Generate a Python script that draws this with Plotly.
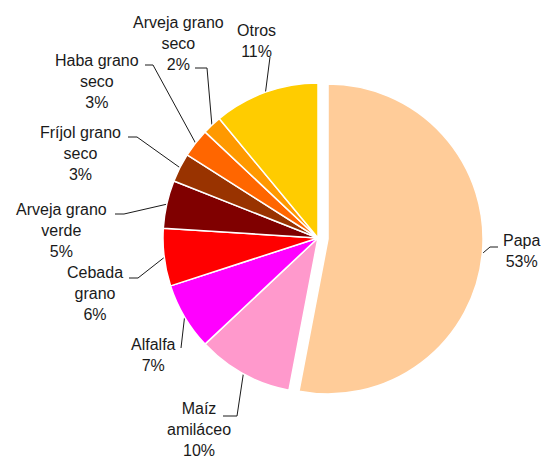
import numpy as np
import plotly.graph_objects as go

# data
labels = ["Papa", "Maíz amiláceo", "Alfalfa", "Cebada grano", "Arveja grano verde",
          "Fríjol grano seco", "Haba grano seco", "Arveja grano seco", "Otros"]
label_text = ["Papa<br>53%", "Maíz<br>amiláceo<br>10%", "Alfalfa<br>7%", "Cebada<br>grano<br>6%",
              "Arveja grano<br>verde<br>5%", "Fríjol grano<br>seco<br>3%", "Haba grano<br>seco<br>3%",
              "Arveja grano<br>seco<br>2%", "Otros<br>11%"]
shares = [53, 10, 7, 6, 5, 3, 3, 2, 11]
colors = ["#FFCC99", "#FF99CC", "#FF00FF", "#FF0000", "#800000",
          "#993300", "#FF6600", "#FF9900", "#FFCC00"]
pulls = [0.065, 0, 0, 0, 0, 0, 0, 0, 0]

W, H = 542, 459
CX, CY, R = 318, 238, 155

# label layout (pixel space): text centre, elbow of leader, end of leader
text_xy = [(521, 251), (199, 429), (153, 355), (95, 293), (61, 230),
           (80, 153), (97, 81), (178, 43), (256, 41)]
elbow_xy = [(490, 247), (237, 416), (181, 348), (138, 278), (124, 214),
            (137, 137), (153, 65), (207, 68), (270, 57)]
end_xy = [(498, 247), (223, 416), (181, 348), (129, 278), (115, 214),
          (128, 137), (145, 65), (195, 68), (270, 57)]

half = R * (1 + max(pulls))

fig = go.Figure()

fig.add_trace(
    go.Pie(
        labels=labels,
        values=shares,
        sort=False,
        direction="clockwise",
        rotation=0,
        pull=pulls,
        marker=dict(colors=colors, line=dict(color="white", width=1.5)),
        textinfo="none",
        hoverinfo="label+percent",
        showlegend=False,
        domain=dict(x=[(CX - half) / W, (CX + half) / W],
                    y=[1 - (CY + half) / H, 1 - (CY - half) / H]),
    )
)

# leader lines start on the slice edge at the middle angle
total = sum(shares)
cum = np.cumsum([0] + shares[:-1]) / total
mid = (cum + np.array(shares) / total / 2) * 2 * np.pi
for i in range(len(labels)):
    rr = R * (1 + pulls[i])
    sx = CX + rr * np.sin(mid[i])
    sy = CY - rr * np.cos(mid[i])
    fig.add_trace(
        go.Scatter(
            x=[sx, elbow_xy[i][0], end_xy[i][0]],
            y=[sy, elbow_xy[i][1], end_xy[i][1]],
            mode="lines",
            line=dict(color="#1a1a1a", width=1),
            hoverinfo="skip",
            showlegend=False,
        )
    )
    fig.add_annotation(
        x=text_xy[i][0], y=text_xy[i][1], xref="x", yref="y",
        text=label_text[i], showarrow=False, align="center",
        font=dict(family="Liberation Sans, Arial, sans-serif", size=16, color="#1a1a1a"),
    )

fig.update_layout(
    width=W,
    height=H,
    margin=dict(l=0, r=0, t=0, b=0),
    paper_bgcolor="white",
    plot_bgcolor="rgba(0,0,0,0)",
    xaxis=dict(range=[0, W], visible=False, fixedrange=True),
    yaxis=dict(range=[H, 0], visible=False, fixedrange=True),
)

fig.write_html("out.html", config={"displayModeBar": False},
               post_script="document.body.style.margin='0';")
